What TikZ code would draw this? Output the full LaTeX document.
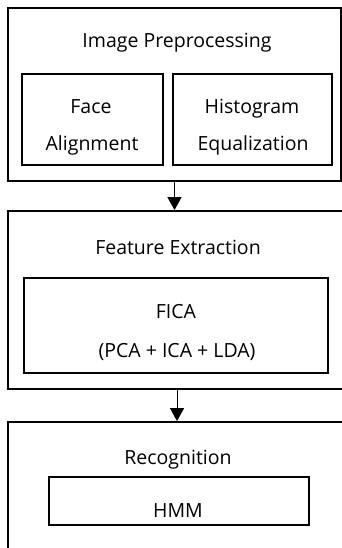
\documentclass[tikz,border=0pt]{standalone}
\usepackage{fontspec}
\setmainfont{Open Sans}
\usetikzlibrary{arrows.meta}
\begin{document}
\begin{tikzpicture}[x=1pt,y=-1pt,
  outerbox/.style={draw=black,line width=1.8pt,inner sep=0pt},
  innerbox/.style={draw=black,line width=1.6pt,inner sep=0pt},
  lbl/.style={font=\fontsize{19.5}{21}\selectfont,anchor=base,inner sep=0pt},
  flow/.style={line width=1pt,-{Triangle[width=14pt,length=13pt]}}]
\useasboundingbox (0,0) rectangle (342,548);
\clip (0,0) rectangle (342,548);
\fill[white] (0,0) rectangle (342,548);
% outer boxes
\node[outerbox,minimum width=333pt,minimum height=173pt] (pre) at (174.5,94.5) {};
\node[outerbox,minimum width=344pt,minimum height=178pt] (feat) at (180,300) {};
\node[outerbox,minimum width=344pt,minimum height=140pt] (rec) at (180,492) {};
% inner boxes
\node[innerbox,minimum width=141pt,minimum height=91pt] (face) at (92.5,119.5) {};
\node[innerbox,minimum width=159pt,minimum height=91pt] (hist) at (252.5,119.5) {};
\node[innerbox,minimum width=304pt,minimum height=95pt] (fica) at (176,325.5) {};
\node[innerbox,minimum width=260pt,minimum height=48pt] (hmm) at (179,501) {};
% texts
\node[lbl] (t1) at (177,48) {Image Preprocessing};
\node[lbl] (t2) at (178,254) {Feature Extraction};
\node[lbl] (t3) at (178,464) {Recognition};
\node[lbl] (fa1) at (91,114) {Face};
\node[lbl] (fa2) at (92,150) {Alignment};
\node[lbl] (hi1) at (252,114) {Histogram};
\node[lbl] (hi2) at (253,150) {Equalization};
\node[lbl] (fi1) at (176,318) {FICA};
\node[lbl] (fi2) at (177,357) {(PCA + ICA + LDA)};
\node[lbl] (hm) at (178,517) {HMM};
% arrows
\draw[flow] (pre.south) -- (pre.south |- feat.north);
\draw[flow] ([xshift=-3pt]feat.south) -- ([xshift=-3pt]feat.south |- rec.north);
\end{tikzpicture}
\end{document}
